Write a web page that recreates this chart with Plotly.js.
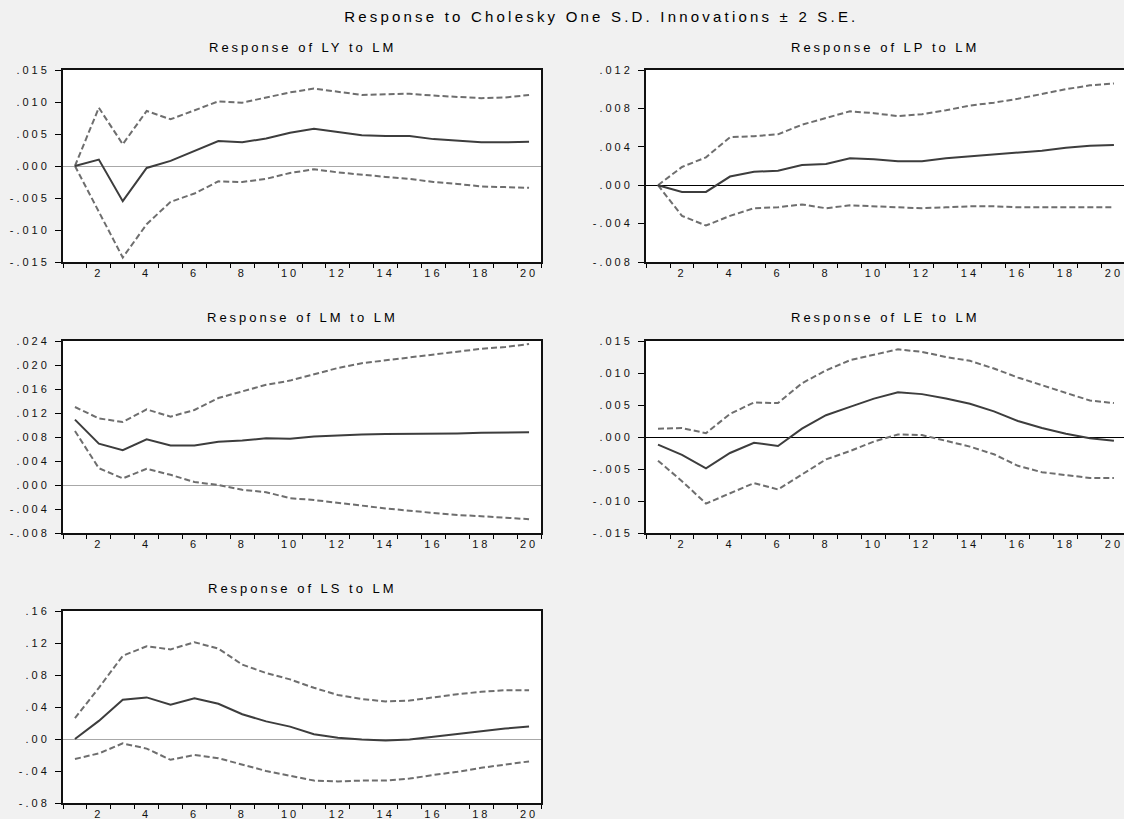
<!DOCTYPE html>
<html>
<head>
<meta charset="utf-8">
<script src="https://cdn.plot.ly/plotly-3.0.1.min.js"></script>
<style>
  html, body { margin: 0; padding: 0; background: #f1f1f1; }
  #chart { width: 1124px; height: 819px; }
  #chart .xaxislayer-above text, #chart .yaxislayer-above text { letter-spacing: 3px; }
  #chart .annotation-text { letter-spacing: 3px; }
  #chart .gtitle { letter-spacing: 3.2px; }
</style>
</head>
<body>
<div id="chart"></div>
<script>
// ---------- data ----------
const periods = [1,2,3,4,5,6,7,8,9,10,11,12,13,14,15,16,17,18,19,20];

const mainTitle = "Response to Cholesky One S.D. Innovations ± 2 S.E.";
const panelTitles = ["Response of LY to LM", "Response of LP to LM", "Response of LM to LM", "Response of LE to LM", "Response of LS to LM"];

const xTickVals = [2,4,6,8,10,12,14,16,18,20];
const xTickText = ["2","4","6","8","10","12","14","16","18","20"];

// LY to LM
const ly_resp  = [0, 0.0010, -0.0055, -0.0003, 0.0008, 0.0023, 0.0039, 0.0037, 0.0043, 0.0052, 0.0058, 0.0053, 0.0048, 0.0047, 0.0047, 0.0042, 0.0039, 0.0037, 0.0037, 0.0038];
const ly_upper = [0, 0.0091, 0.0034, 0.0086, 0.0073, 0.0087, 0.0101, 0.0099, 0.0107, 0.0115, 0.0121, 0.0116, 0.0111, 0.0112, 0.0113, 0.0110, 0.0108, 0.0106, 0.0107, 0.0111];
const ly_lower = [0, -0.0071, -0.0143, -0.0091, -0.0056, -0.0043, -0.0024, -0.0025, -0.0020, -0.0011, -0.0005, -0.0010, -0.0014, -0.0017, -0.0020, -0.0025, -0.0028, -0.0032, -0.0033, -0.0034];
const ly_ticks = [-0.015, -0.010, -0.005, 0, 0.005, 0.010, 0.015];
const ly_tickText = ["-.015", "-.010", "-.005", ".000", ".005", ".010", ".015"];

// LP to LM
const lp_resp  = [0, -0.0007, -0.0007, 0.0009, 0.0014, 0.0015, 0.0021, 0.0022, 0.0028, 0.0027, 0.0025, 0.0025, 0.0028, 0.0030, 0.0032, 0.0034, 0.0036, 0.0039, 0.0041, 0.0042];
const lp_upper = [0, 0.0019, 0.0029, 0.0050, 0.0051, 0.0053, 0.0063, 0.0070, 0.0077, 0.0075, 0.0072, 0.0074, 0.0078, 0.0083, 0.0086, 0.0090, 0.0095, 0.0100, 0.0104, 0.0106];
const lp_lower = [0, -0.0032, -0.0042, -0.0032, -0.0024, -0.0023, -0.0020, -0.0024, -0.0021, -0.0022, -0.0023, -0.0024, -0.0023, -0.0022, -0.0022, -0.0023, -0.0023, -0.0023, -0.0023, -0.0023];
const lp_ticks = [-0.008, -0.004, 0, 0.004, 0.008, 0.012];
const lp_tickText = ["-.008", "-.004", ".000", ".004", ".008", ".012"];

// LM to LM
const lm_resp  = [0.0109, 0.0069, 0.0058, 0.0076, 0.0066, 0.0066, 0.0072, 0.0074, 0.0078, 0.0077, 0.0081, 0.0083, 0.0084, 0.0085, 0.0085, 0.0085, 0.0086, 0.0087, 0.0087, 0.0088];
const lm_upper = [0.0130, 0.0111, 0.0105, 0.0126, 0.0114, 0.0125, 0.0145, 0.0156, 0.0167, 0.0174, 0.0185, 0.0195, 0.0203, 0.0208, 0.0213, 0.0218, 0.0223, 0.0227, 0.0230, 0.0235];
const lm_lower = [0.0090, 0.0028, 0.0011, 0.0027, 0.0017, 0.0005, 0.0000, -0.0008, -0.0012, -0.0022, -0.0025, -0.0030, -0.0034, -0.0039, -0.0043, -0.0047, -0.0050, -0.0052, -0.0054, -0.0057];
const lm_ticks = [-0.008, -0.004, 0, 0.004, 0.008, 0.012, 0.016, 0.020, 0.024];
const lm_tickText = ["-.008", "-.004", ".000", ".004", ".008", ".012", ".016", ".020", ".024"];

// LE to LM
const le_resp  = [-0.0012, -0.0028, -0.0049, -0.0025, -0.0009, -0.0014, 0.0013, 0.0034, 0.0047, 0.0060, 0.0070, 0.0067, 0.0060, 0.0052, 0.0040, 0.0025, 0.0014, 0.0005, -0.0002, -0.0006];
const le_upper = [0.0013, 0.0014, 0.0006, 0.0036, 0.0054, 0.0053, 0.0084, 0.0104, 0.0120, 0.0129, 0.0137, 0.0133, 0.0125, 0.0119, 0.0107, 0.0093, 0.0081, 0.0069, 0.0057, 0.0053];
const le_lower = [-0.0037, -0.0069, -0.0104, -0.0088, -0.0072, -0.0082, -0.0059, -0.0035, -0.0022, -0.0007, 0.0004, 0.0003, -0.0006, -0.0015, -0.0027, -0.0045, -0.0055, -0.0060, -0.0064, -0.0064];
const le_ticks = [-0.015, -0.010, -0.005, 0, 0.005, 0.010, 0.015];
const le_tickText = ["-.015", "-.010", "-.005", ".000", ".005", ".010", ".015"];

// LS to LM
const ls_resp  = [0.000, 0.0226, 0.049, 0.052, 0.043, 0.051, 0.044, 0.031, 0.022, 0.0155, 0.006, 0.0017, -0.0005, -0.002, -0.0005, 0.003, 0.0067, 0.010, 0.013, 0.0155];
const ls_upper = [0.026, 0.064, 0.104, 0.116, 0.112, 0.121, 0.113, 0.093, 0.0825, 0.0745, 0.064, 0.055, 0.050, 0.047, 0.048, 0.052, 0.056, 0.059, 0.061, 0.061];
const ls_lower = [-0.025, -0.018, -0.0055, -0.012, -0.026, -0.020, -0.024, -0.032, -0.040, -0.046, -0.052, -0.053, -0.052, -0.052, -0.0495, -0.045, -0.041, -0.036, -0.032, -0.028];
const ls_ticks = [-0.08, -0.04, 0, 0.04, 0.08, 0.12, 0.16];
const ls_tickText = ["-.08", "-.04", ".00", ".04", ".08", ".12", ".16"];

// ---------- layout helpers ----------
const W = 1124, H = 819;
const FONT = "Liberation Sans, Arial, sans-serif";
const solidColor = "#3d3d3d";
const dashColor = "#6e6e6e";

const panels = [
  {resp: ly_resp, up: ly_upper, lo: ly_lower, ticks: ly_ticks, text: ly_tickText, range: [-0.015, 0.015], x0: 63, x1: 541, top: 70, xr: [0.5, 20.5], zc: "#a8a8a8", right: true},
  {resp: lp_resp, up: lp_upper, lo: lp_lower, ticks: lp_ticks, text: lp_tickText, range: [-0.008, 0.012], x0: 646, x1: 1124, top: 70, xr: [0.5, 20.42], zc: "#000000", right: false},
  {resp: lm_resp, up: lm_upper, lo: lm_lower, ticks: lm_ticks, text: lm_tickText, range: [-0.008, 0.024], x0: 63, x1: 541, top: 341, xr: [0.5, 20.5], zc: "#a8a8a8", right: true},
  {resp: le_resp, up: le_upper, lo: le_lower, ticks: le_ticks, text: le_tickText, range: [-0.015, 0.015], x0: 646, x1: 1124, top: 341, xr: [0.5, 20.42], zc: "#000000", right: false},
  {resp: ls_resp, up: ls_upper, lo: ls_lower, ticks: ls_ticks, text: ls_tickText, range: [-0.08, 0.16], x0: 63, x1: 541, top: 611, xr: [0.5, 20.5], zc: "#a8a8a8", right: true}
];
const PH = 192;

const traces = [];
const layout = {
  width: W, height: H,
  paper_bgcolor: "#f1f1f1",
  plot_bgcolor: "#ffffff",
  margin: {l: 0, r: 0, t: 0, b: 0, pad: 0},
  showlegend: false,
  font: {family: FONT, size: 11, color: "#000000"},
  title: {text: mainTitle, font: {family: FONT, size: 15, color: "#000000"}, x: 0.535, xanchor: "center", y: 1 - 17/H, yanchor: "middle"},
  annotations: []
};

panels.forEach((p, i) => {
  const n = i + 1;
  const xa = n === 1 ? "x" : "x" + n;
  const ya = n === 1 ? "y" : "y" + n;
  const xkey = n === 1 ? "xaxis" : "xaxis" + n;
  const ykey = n === 1 ? "yaxis" : "yaxis" + n;

  const series = [
    {y: p.up, dash: "6px,3px", color: dashColor},
    {y: p.lo, dash: "6px,3px", color: dashColor},
    {y: p.resp, dash: "solid", color: solidColor}
  ];
  series.forEach(s => {
    traces.push({
      type: "scatter", mode: "lines", x: periods, y: s.y,
      xaxis: xa, yaxis: ya, hoverinfo: "skip",
      line: {color: s.color, width: 2, dash: s.dash}
    });
  });

  const yTop = 1 - p.top / H;
  const yBot = 1 - (p.top + PH) / H;

  layout[xkey] = {
    domain: [p.x0 / W, p.x1 / W],
    range: p.xr,
    anchor: ya,
    tickmode: "array", tickvals: xTickVals, ticktext: xTickText,
    ticks: "outside", ticklen: 0, tickcolor: "#000",
    minor: {tickmode: "linear", tick0: 0.5, dtick: 1, ticks: "outside", ticklen: 4, tickwidth: 1, tickcolor: "#000", showgrid: false},
    showgrid: false, zeroline: false,
    showline: true, linecolor: "#111", linewidth: 2, mirror: true,
    tickfont: {family: FONT, size: 11, color: "#111"},
    ticklabelstandoff: 0,
    fixedrange: true
  };
  layout[ykey] = {
    domain: [yBot, yTop],
    range: p.range,
    anchor: xa,
    tickmode: "array", tickvals: p.ticks, ticktext: p.text,
    ticks: "outside", ticklen: 6, tickwidth: 1, tickcolor: "#000",
    showgrid: false,
    zeroline: true, zerolinecolor: p.zc, zerolinewidth: 1,
    showline: true, linecolor: "#111", linewidth: 2, mirror: p.right,
    tickfont: {family: FONT, size: 11, color: "#111"},
    ticklabelstandoff: 3,
    fixedrange: true
  };

  layout.annotations.push({
    text: panelTitles[i], xref: "paper", yref: "paper",
    x: ((p.x0 + Math.min(p.x1, p.x0 + 480)) / 2) / W, y: 1 - (p.top - 23) / H,
    xanchor: "center", yanchor: "middle", showarrow: false,
    font: {family: FONT, size: 13, color: "#000"}
  });
});

Plotly.newPlot("chart", traces, layout, {displayModeBar: false, staticPlot: true});
</script>
</body>
</html>
